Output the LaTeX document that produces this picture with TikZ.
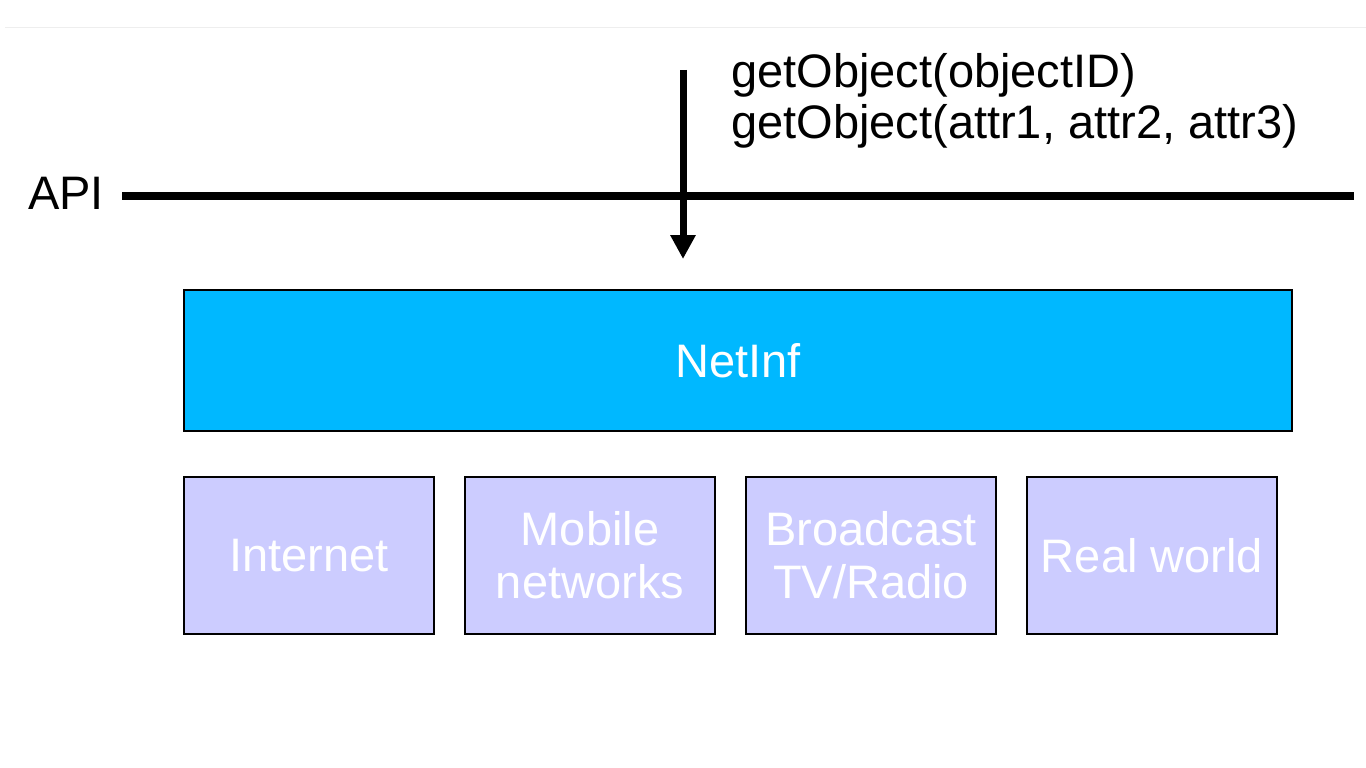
\documentclass[tikz,border=0pt]{standalone}
\usepackage{fontspec}
\setmainfont{Liberation Sans}
\usetikzlibrary{arrows.meta}
\definecolor{netblue}{RGB}{0,184,255}
\definecolor{lav}{RGB}{204,204,255}
\definecolor{faint}{RGB}{238,238,238}
\begin{document}
\begin{tikzpicture}[x=1pt,y=-1pt,
  big/.style={font=\fontsize{47}{53}\selectfont},
  layerbox/.style={draw=black, line width=2pt, fill=netblue, text=white, big,
    minimum width=1108pt, minimum height=141pt, inner sep=0pt},
  netbox/.style={draw=black, line width=2pt, fill=lav, text=white, big, align=center,
    minimum width=250pt, minimum height=157pt, inner sep=0pt},
  lbl/.style={big, text=black, inner sep=0pt, anchor=base west},
  apiline/.style={line width=8pt},
  callarrow/.style={line width=7pt, -{Triangle[length=24pt,width=24pt]}}]
\useasboundingbox (0,0) rectangle (1366,768);
\coordinate (frameL) at (5,28);
\coordinate (frameR) at (1366,28);
\draw[faint, line width=1pt] (frameL) -- (frameR);
\node[lbl] (api) at (28,209) {API};
\coordinate (lineL) at (122,196);
\coordinate (lineR) at (1354,196);
\draw[apiline] (lineL) -- (lineR);
\node[lbl] (call1) at (731,88) {getObject(objectID)};
\node[lbl] (call2) at (731,138) {getObject(attr1, attr2, attr3)};
\coordinate (callTop) at (683,70);
\coordinate (callTip) at (683,259);
\draw[callarrow] (callTop) -- (callTip);
\node[layerbox] (netinf) at (738,360.5) {NetInf};
\node[netbox] (internet) at (309,555.5) {Internet};
\node[netbox] (mobile) at (590,555.5) {Mobile\\networks};
\node[netbox] (broadcast) at (871,555.5) {Broadcast\\TV/Radio};
\node[netbox] (real) at (1152,555.5) {Real world};
\end{tikzpicture}
\end{document}
